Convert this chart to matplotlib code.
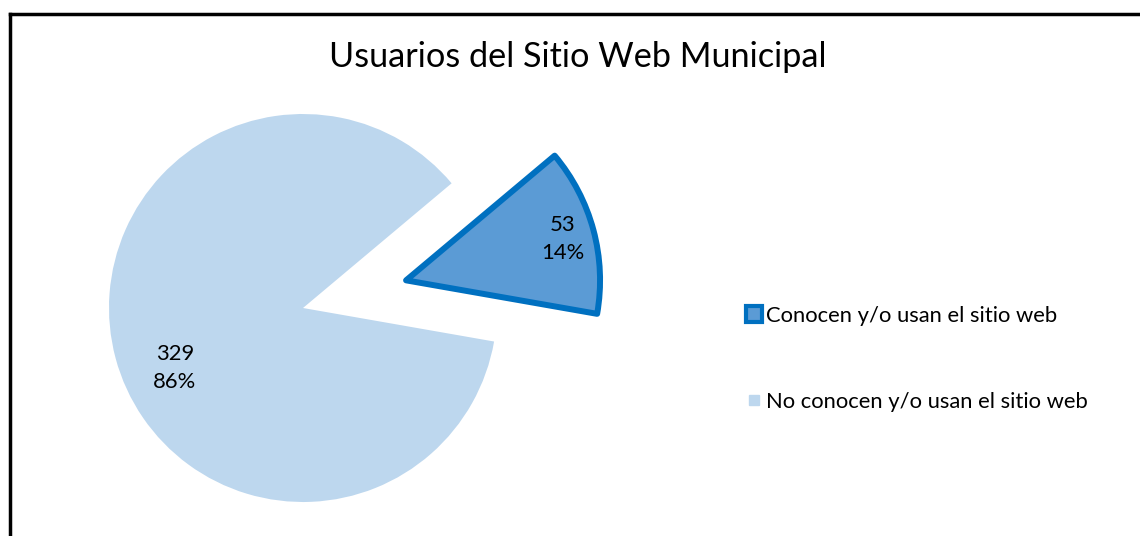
import matplotlib
matplotlib.use("Agg")
import matplotlib.pyplot as plt
from matplotlib.lines import Line2D

plt.rcParams['font.family'] = ['Lato', 'DejaVu Sans']

categories = ["Conocen y/o usan el sitio web", "No conocen y/o usan el sitio web"]
values = [53, 329]
percents = ["14%", "86%"]
title = "Usuarios del Sitio Web Municipal"

fill_colors = ["#5B9BD5", "#BDD7EE"]
edge_colors = ["#0070C0", "none"]

W, H = 1140, 536
fig = plt.figure(figsize=(W / 100, H / 100), dpi=100)
ax = fig.add_axes([0, 0, 1, 1])

R = 194.0
cx, cy = 303.0, 308.0

wedges, _ = ax.pie(values, startangle=40, counterclock=False, explode=[0.55, 0],
                   colors=fill_colors, radius=1.0, center=(0, 0))
wedges[0].set_edgecolor(edge_colors[0])
wedges[0].set_linewidth(4.3)
wedges[0].set_joinstyle('round')
wedges[1].set_edgecolor('none')

ax.set_xlim(-cx / R, (W - cx) / R)
ax.set_ylim((cy - H) / R, cy / R)
ax.set_aspect('auto')
ax.axis('off')

# data labels
label_pos = [((563 - cx) / R, (cy - 239) / R), ((175 - cx) / R, (cy - 368) / R)]
for (x, y), v, p in zip(label_pos, values, percents):
    ax.text(x, y, f"{v}\n{p}", ha='center', va='center', fontsize=15.8,
            color='black', linespacing=1.5)

# title
fig.text(578 / W, 1 - 57 / H, title, ha='center', va='center', fontsize=24.7, color='black')

# legend
handles = [
    Line2D([], [], linestyle='none', marker='s', markersize=11, markerfacecolor=fill_colors[0],
           markeredgecolor=edge_colors[0], markeredgewidth=3),
    Line2D([], [], linestyle='none', marker='s', markersize=6.5, markerfacecolor=fill_colors[1],
           markeredgecolor=fill_colors[1]),
]
fig.legend(handles, categories, loc='center left', bbox_to_anchor=(734 / W, 1 - 359 / H),
           frameon=False, fontsize=15.8, labelspacing=3.0, handlelength=0.8,
           handletextpad=0.15, borderpad=0)

# border (left and top edges visible)
bx = 10 / W
by = 1 - 14 / H
fig.add_artist(Line2D([bx, bx], [0, by], transform=fig.transFigure, color='black', lw=2.5,
                      solid_capstyle='projecting'))
fig.add_artist(Line2D([bx, 1.01], [by, by], transform=fig.transFigure, color='black', lw=2.5,
                      solid_capstyle='projecting'))

fig.savefig("out.png", dpi=100)
